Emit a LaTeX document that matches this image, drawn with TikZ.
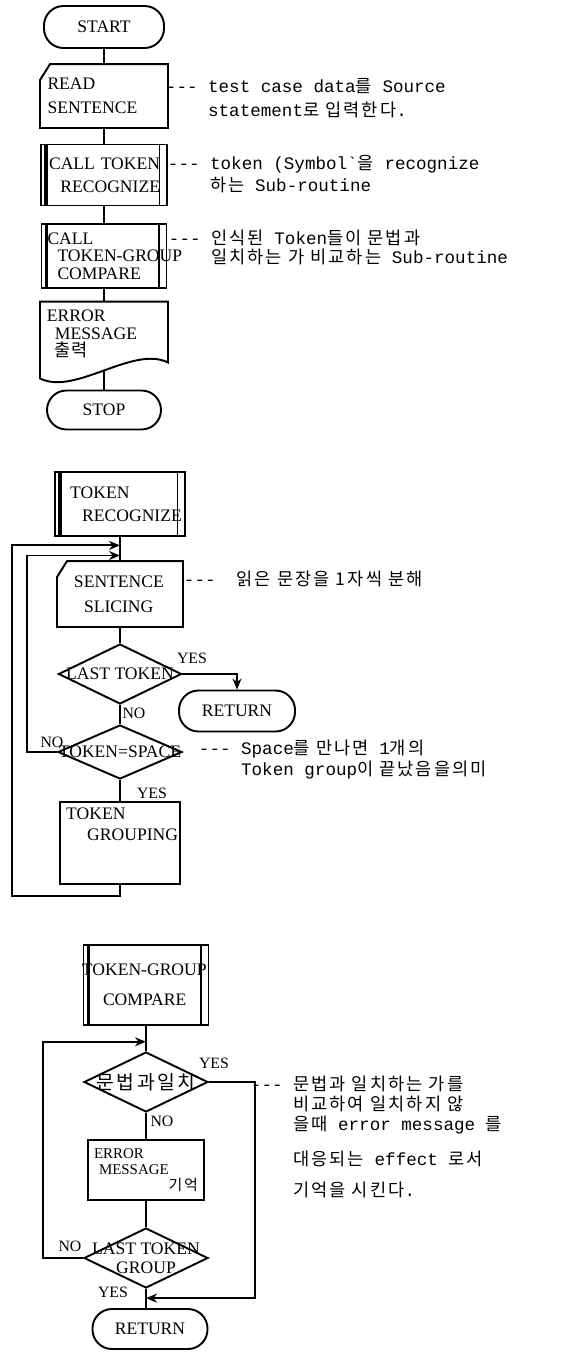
\documentclass[tikz,border=0pt]{standalone}
\usepackage{fontspec}
\setmainfont{Liberation Serif}
\setmonofont{Liberation Mono}
\newfontfamily\kr{Noto Sans CJK KR}
\newfontfamily\krsp{Noto Sans CJK KR}[LetterSpace=12]
\usepackage{tikz}
\usetikzlibrary{shapes,arrows,positioning,calc,arrows.meta}
\hyphenpenalty=10000
\exhyphenpenalty=10000

\begin{document}
\begin{tikzpicture}[x=0.2mm, y=-0.2mm, line width=1.1pt, >={Stealth[length=2.2mm,width=1.8mm]},
        font=\fontsize{10}{11}\selectfont,
        term/.style={draw, rectangle, rounded corners=3.9mm},
        card/.style={rectangle, append after command={\pgfextra{\draw ([xshift=2mm]\tikzlastnode.north west) -- (\tikzlastnode.north east) -- (\tikzlastnode.south east) -- (\tikzlastnode.south west) -- ([yshift=-3.2mm]\tikzlastnode.north west) -- cycle;}}},
        sub/.style={draw, rectangle, path picture={
            \draw[line width=2pt] ([xshift=1mm]path picture bounding box.north west) -- ([xshift=1mm]path picture bounding box.south west);
            \draw ([xshift=-1.5mm]path picture bounding box.north east) -- ([xshift=-1.5mm]path picture bounding box.south east);}},
        doc/.style={rectangle, append after command={\pgfextra{\draw (\tikzlastnode.north west) -- (\tikzlastnode.north east) -- ([yshift=0.8mm]\tikzlastnode.south east) .. controls +(-7mm,3.5mm) and +(7mm,-3.5mm) .. ([yshift=-2.4mm]\tikzlastnode.south west) -- cycle;}}},
        decide/.style={diamond, draw, inner sep=0pt},
        lbl/.style={font=\fontsize{9}{10}\selectfont, inner sep=1pt},
        note/.style={anchor=north west, inner sep=0pt, align=left, font=\ttfamily\fontsize{10}{12}\selectfont}]
        \fill[white] (0,0) rectangle (569,1354);
        \useasboundingbox (0,0) rectangle (569,1354);

        % main program
        \node[term, minimum width=24mm, minimum height=8.4mm] (start) at (104,27) {START};
        \node[card, minimum width=25.2mm, minimum height=12.4mm, text width=22.6mm, align=left] (read) at (104,96) {READ\\[2.5pt]SENTENCE};
        \node[sub, minimum width=25.2mm, minimum height=12.2mm, text width=22.4mm, align=right] (call1) at (104,175) {CALL TOKEN\\[2pt]RECOGNIZE};
        \node[sub, minimum width=25mm, minimum height=12.8mm, text width=22.6mm, align=left] (call2) at (104,256) {CALL\\[-1pt]\hspace*{2mm}TOKEN-GROUP\\[-1pt]\hspace*{2mm}COMPARE};
        \node[doc, minimum width=25.2mm, minimum height=12.6mm, text width=22.8mm, align=left] (err) at (104,334) {ERROR\\[-1pt]\hspace*{1.6mm}MESSAGE\\[-1.2pt]\hspace*{1.6mm}{\kr 출력}};
        \node[term, minimum width=22.8mm, minimum height=7.8mm] (stop) at (104,410) {STOP};

        \draw (start) -- (read);
        \draw (read) -- (call1);
        \draw (call1) -- (call2);
        \draw (call2) -- (err);
        \draw ([yshift=-0.8mm]err.south) -- (stop);

        \node[note] (n1) at (165,77) {--- test case data{\krsp 를} Source\\[2pt]\phantom{----}statement{\krsp 로 입력한다}.};
        \node[note] (n2) at (167,154) {--- token (Symbol`{\krsp 을} recognize\\[0.5pt]\phantom{----}{\krsp 하는} Sub-routine};
        \node[note] (n3) at (168,229) {--- {\krsp 인식된} Token{\krsp 들이 문법과}\\[-1.2pt]\phantom{----}{\krsp 일치하는 가 비교하는} Sub-routine};

        % token recognize
        \node[sub, minimum width=26mm, minimum height=12.8mm, text width=23.5mm, align=left] (rec) at (120,504) {\hspace*{1.8mm}TOKEN\\[2pt]\hspace*{4.2mm}RECOGNIZE};
        \node[card, minimum width=24.8mm, minimum height=12.8mm, text width=22mm, align=left] (slice) at (120,594) {\hspace*{1.8mm}SENTENCE\\[3pt]\hspace*{3.8mm}SLICING};
        \node[decide, minimum width=24.6mm, minimum height=12mm, label={center:LAST TOKEN}] (last) at (120,674) {};
        \node[term, minimum width=23.2mm, minimum height=8.2mm] (ret1) at (237,711) {RETURN};
        \node[decide, minimum width=24.8mm, minimum height=10.8mm, label={center:TOKEN=SPACE}] (space) at (120,752) {};
        \node[draw, minimum width=23.8mm, minimum height=16mm, text width=21.5mm, align=left] (group) at (120,843) {TOKEN\\[1pt]\hspace*{4.2mm}GROUPING\\[10pt]~};

        \coordinate (j1) at ($(rec.south)!0.35!(slice.north)$);
        \coordinate (j2) at ($(rec.south)!0.77!(slice.north)$);
        \draw (rec) -- (slice);
        \draw (slice) -- (last);
        \draw[->] (last.east) -| (ret1.north);
        \draw (last) -- (space);
        \draw (space) -- (group);
        \draw[->] (space.west) -- ++(-30,0) |- (j2);
        \draw[->] (group.south) -- ++(0,11) -- ++(-108,0) |- (j1);

        \node[lbl] (y1) at (192,658) {YES};
        \node[lbl] (n4) at (134,713) {NO};
        \node[lbl] (n5) at (52,742) {NO};
        \node[lbl] (y2) at (152,793) {YES};

        \node[note] (n6) at (183,570) {---\ \ {\krsp 읽은 문장을 1자씩 분해}};
        \node[note] (n7) at (198,739) {--- Space{\krsp 를 만나면} 1{\krsp 개의}\\[0pt]\phantom{----}Token group{\krsp 이 끝났음을의미}};

        % token-group compare
        \node[sub, minimum width=25mm, minimum height=16mm, text width=22.6mm, align=left] (tgc) at (146,985) {\hspace*{-1.5mm}TOKEN-GROUP\\[6pt]\hspace*{2.7mm}COMPARE};
        \node[decide, minimum width=24.8mm, minimum height=12mm, label={center:{\krsp\fontsize{11}{12}\selectfont 문법과일치}}] (match) at (146,1082) {};
        \node[draw, minimum width=23mm, minimum height=12mm, text width=20.8mm, align=left, font=\fontsize{8.5}{9.5}\selectfont] (err2) at (146,1170) {ERROR\\[-0.5pt]\hspace*{1mm}MESSAGE\\[-0.5pt]\hfill{\krsp 기억}};
        \node[decide, minimum width=24.8mm, minimum height=12mm, label={[align=center]center:{LAST TOKEN\\GROUP}}] (lastg) at (146,1258) {};
        \node[term, minimum width=23mm, minimum height=8mm] (ret2) at (150,1329) {RETURN};

        \coordinate (j3) at ($(tgc.south)!0.63!(match.north)$);
        \coordinate (j4) at ($(lastg.south)!0.48!(lastg.south |- ret2.north)$);
        \draw (tgc) -- (match);
        \draw (match) -- (err2);
        \draw (err2) -- (lastg);
        \draw (lastg.south) -- (lastg.south |- ret2.north);
        \draw[->] (match.east) -- ++(46,0) |- (j4);
        \draw[->] (lastg.west) -- ++(-40,0) |- (j3);

        \node[lbl] (y3) at (214,1063) {YES};
        \node[lbl] (n8) at (162,1121) {NO};
        \node[lbl] (n9) at (70,1246) {NO};
        \node[lbl] (y4) at (113,1292) {YES};

        \node[note] (n10) at (250,1075) {--- {\krsp 문법과 일치하는 가를}\\[-0.7pt]\phantom{----}{\krsp 비교하여 일치하지 않}\\[-0.7pt]\phantom{----}{\krsp 을때} error message {\krsp 를}\\[7.8pt]\phantom{----}{\krsp 대응되는} effect {\krsp 로서}\\[6pt]\phantom{----}{\krsp 기억을 시킨다}.};

    \end{tikzpicture}
\end{document}
